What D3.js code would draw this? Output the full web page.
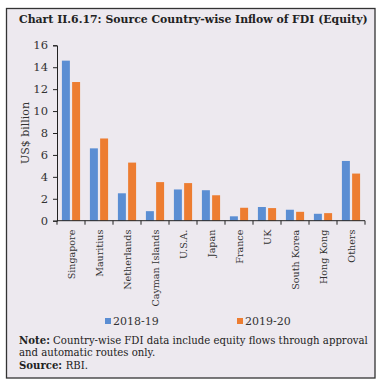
<!DOCTYPE html>
<html><head><meta charset="utf-8">
<script src="https://cdn.jsdelivr.net/npm/d3@7"></script>
<style>body{margin:0;background:#fff}svg{display:block}</style>
</head><body>
<script>
const categories = ["Singapore","Mauritius","Netherlands","Cayman Islands","U.S.A.","Japan","France","UK","South Korea","Hong Kong","Others"];
const series2018 = [14.6, 6.6, 2.5, 0.87, 2.85, 2.78, 0.4, 1.25, 1.0, 0.63, 5.45];
const series2019 = [12.65, 7.5, 5.3, 3.52, 3.43, 2.32, 1.18, 1.15, 0.81, 0.69, 4.3];
const seriesNames = ["2018-19","2019-20"];
const yTicks = [0,2,4,6,8,10,12,14,16];
const colors = ["#5B8ED3","#ED7D31"];

const W=381,H=382;
const font = "'DejaVu Serif', 'Liberation Serif', serif";
const svg = d3.select("body").append("svg").attr("width",W).attr("height",H);
svg.append("rect").attr("x",6.5).attr("y",8.5).attr("width",368.5).attr("height",369.5)
  .attr("fill","#EDE9EF").attr("stroke","#333").attr("stroke-width",1.3);

function fitText(sel, target){
  const n = sel.node(); const w = n.getComputedTextLength();
  if (w>0) sel.attr("font-size", parseFloat(sel.attr("font-size"))*target/w);
  return parseFloat(sel.attr("font-size"));
}
const title = svg.append("text").attr("x",19).attr("y",23).attr("font-family",font)
  .attr("font-weight","bold").attr("font-size",10.5).attr("fill","#222")
  .text("Chart II.6.17: Source Country-wise Inflow of FDI (Equity)");
fitText(title, 349);

const x0 = d3.scaleBand().domain(categories).range([57,365]).paddingInner(0).paddingOuter(0);
const x1 = d3.scaleBand().domain(seriesNames).range([0,x0.bandwidth()]).paddingInner(0.22).paddingOuter(0.48);
const y = d3.scaleLinear().domain([0,16]).range([220.7,45.3]);

const data = categories.map((c,i)=>({c, v:[series2018[i],series2019[i]]}));
const g = svg.append("g");
g.selectAll("g.cat").data(data).join("g").attr("class","cat")
  .attr("transform",d=>`translate(${x0(d.c)},0)`)
  .selectAll("rect").data(d=>d.v.map((v,k)=>({v,k}))).join("rect")
  .attr("x",d=>x1(seriesNames[d.k])).attr("width",x1.bandwidth())
  .attr("y",d=>y(d.v)).attr("height",d=>y(0)-y(d.v)).attr("fill",d=>colors[d.k]);

// y axis
const ya = svg.append("g").attr("transform","translate(57,0)")
  .call(d3.axisLeft(y).tickValues(yTicks).tickSize(4).tickPadding(5).tickFormat(d3.format("d")));
ya.selectAll("path,line").attr("stroke","#222");
ya.selectAll("text").attr("font-family",font).attr("font-size",11.5).attr("fill","#333");
svg.append("text").attr("transform","translate(29,133) rotate(-90)").attr("text-anchor","middle")
  .attr("font-family",font).attr("font-size",11).attr("fill","#333").text("US$ billion");

// x axis
const xa = svg.append("g").attr("transform",`translate(0,${y(0)})`);
xa.append("line").attr("x1",57).attr("x2",365).attr("stroke","#222");
const bounds = categories.map(c=>x0(c)).concat([x0.range()[1]]);
xa.selectAll("line.t").data(bounds).join("line").attr("class","t")
  .attr("x1",d=>d).attr("x2",d=>d).attr("y1",0).attr("y2",4).attr("stroke","#222");
const xl = xa.selectAll("text").data(categories).join("text")
  .attr("transform",d=>`translate(${x0(d)+x0.bandwidth()/2+4},9) rotate(-90)`)
  .attr("text-anchor","end").attr("font-family",font).attr("font-size",11).attr("fill","#333")
  .text(d=>d);
const cay = xl.filter(d=>d==="Cayman Islands");
const fs = fitText(cay, 77);
xl.attr("font-size", fs);

// legend
const leg = svg.append("g");
const legX = [105,237];
seriesNames.forEach((s,i)=>{
  leg.append("rect").attr("x",legX[i]).attr("y",318).attr("width",6).attr("height",6).attr("fill",colors[i]);
  leg.append("text").attr("x",legX[i]+8).attr("y",325).attr("font-family",font).attr("font-size",11).attr("fill","#333").text(s);
});

// notes
const n1 = svg.append("text").attr("x",19).attr("y",344).attr("font-family",font).attr("font-size",10).attr("fill","#222");
n1.append("tspan").attr("font-weight","bold").text("Note:");
n1.append("tspan").text(" Country-wise FDI data include equity flows through approval");
fitText(n1, 349);
svg.append("text").attr("x",19).attr("y",356).attr("font-family",font).attr("font-size",n1.attr("font-size")).attr("fill","#222")
  .text("and automatic routes only.");
svg.append("text").attr("x",19).attr("y",369).attr("font-family",font).attr("font-size",n1.attr("font-size")).attr("fill","#222")
  .attr("font-weight","bold").text("Source: ").append("tspan").attr("font-weight","normal").text("RBI.");
</script>
</body></html>
